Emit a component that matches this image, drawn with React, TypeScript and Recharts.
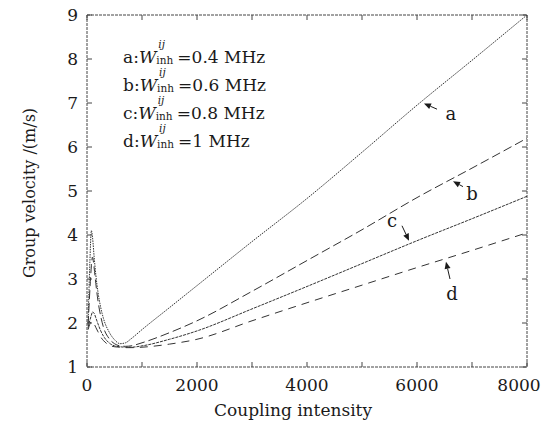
import { Line, LineChart, ReferenceDot, ReferenceLine, XAxis, YAxis } from 'recharts'

// coupling intensity samples shared by all four curves
const XS = [20, 50, 80, 100, 130, 160, 200, 250, 300, 400, 500, 600, 700, 800, 1000, 1500, 2000, 3000, 4000, 5000, 6000, 7000, 8000]

// group velocity (m/s)
const A_04 = [2.0, 3.3, 4.1, 3.95, 3.5, 3.1, 2.7, 2.35, 2.1, 1.8, 1.62, 1.53, 1.55, 1.64, 1.85, 2.35, 2.85, 3.85, 4.83, 5.88, 6.95, 7.97, 9.0]
const B_06 = [1.95, 2.7, 3.3, 3.5, 3.25, 2.9, 2.5, 2.15, 1.9, 1.65, 1.53, 1.48, 1.47, 1.48, 1.55, 1.78, 2.05, 2.72, 3.42, 4.12, 4.85, 5.52, 6.2]
const C_08 = [1.9, 2.05, 2.18, 2.25, 2.22, 2.12, 1.98, 1.82, 1.7, 1.55, 1.48, 1.46, 1.45, 1.45, 1.48, 1.63, 1.82, 2.32, 2.83, 3.35, 3.87, 4.37, 4.88]
const D_10 = [1.85, 1.97, 2.03, 2.03, 1.98, 1.9, 1.8, 1.68, 1.6, 1.5, 1.46, 1.45, 1.44, 1.44, 1.45, 1.52, 1.63, 2.05, 2.46, 2.86, 3.26, 3.65, 4.05]

const X_TICKS = [0, 1000, 2000, 3000, 4000, 5000, 6000, 7000, 8000]
const Y_TICKS = [1, 2, 3, 4, 5, 6, 7, 8, 9]

const LEGEND = [
  { key: 'a', value: '0.4 MHz' },
  { key: 'b', value: '0.6 MHz' },
  { key: 'c', value: '0.8 MHz' },
  { key: 'd', value: '1 MHz' },
]

// arrow annotations in data units: tail -> head, plus letter position
const ARROWS = [
  { label: 'a', tail: [6364, 6.86], head: [6127, 6.99], text: [6618, 6.77] },
  { label: 'b', tail: [6836, 5.1], head: [6655, 5.22], text: [7000, 4.94] },
  { label: 'c', tail: [5727, 4.21], head: [5855, 3.87], text: [5545, 4.33] },
  { label: 'd', tail: [6600, 3.0], head: [6527, 3.39], text: [6636, 2.66] },
]

const rows = XS.map((x, i) => ({ x, a: A_04[i], b: B_06[i], c: C_08[i], d: D_10[i] }))

const FONT = '"DejaVu Serif", serif'
const INK = '#1a1a1a'
const FRAME = '#444'

function BottomTick(props: any) {
  const { x, y, payload } = props
  const v = payload.value
  const showLabel = v % 2000 === 0
  return (
    <g>
      <line x1={x} y1={y} x2={x} y2={y - 5} stroke={FRAME} strokeWidth={1} />
      {showLabel && (
        <text x={v === 8000 ? x - 8 : x} y={y + 24} textAnchor="middle" fontFamily={FONT} fontSize={17} fill={INK}>
          {v}
        </text>
      )}
    </g>
  )
}

function TopTick(props: any) {
  const { x, y } = props
  return <line x1={x} y1={y} x2={x} y2={y + 5} stroke={FRAME} strokeWidth={1} />
}

function LeftTick(props: any) {
  const { x, y, payload } = props
  return (
    <g>
      <line x1={x} y1={y} x2={x + 5} y2={y} stroke={FRAME} strokeWidth={1} />
      <text x={x - 9} y={y + 6} textAnchor="end" fontFamily={FONT} fontSize={17} fill={INK}>
        {payload.value}
      </text>
    </g>
  )
}

function RightTick(props: any) {
  const { x, y } = props
  return <line x1={x} y1={y} x2={x - 5} y2={y} stroke={FRAME} strokeWidth={1} />
}

function ArrowShape(props: any) {
  const { x1, y1, x2, y2 } = props
  const ang = Math.atan2(y2 - y1, x2 - x1)
  const len = 7
  const w = 3
  const bx = x2 - len * Math.cos(ang)
  const by = y2 - len * Math.sin(ang)
  const px = -Math.sin(ang) * w
  const py = Math.cos(ang) * w
  return (
    <g>
      <line x1={x1} y1={y1} x2={bx} y2={by} stroke={INK} strokeWidth={1} />
      <polygon points={`${x2},${y2} ${bx + px},${by + py} ${bx - px},${by - py}`} fill={INK} />
    </g>
  )
}

function letterShape(label: string) {
  return (p: any) => (
    <text x={p.cx} y={p.cy} textAnchor="middle" dominantBaseline="central" fontFamily={FONT} fontSize={18} fill={INK}>
      {label}
    </text>
  )
}

function LegendRow({ k, value }: { k: string; value: string }) {
  return (
    <div style={{ whiteSpace: 'nowrap', height: 28, lineHeight: '28px' }}>
      {k}:<i>W</i>
      <span style={{ position: 'relative', display: 'inline-block', width: 21, height: 10 }}>
        <i style={{ position: 'absolute', left: 2, top: -14, fontSize: 10.5, lineHeight: '10px' }}>ij</i>
        <span style={{ position: 'absolute', left: 0, top: 2, fontSize: 10.5, lineHeight: '10px' }}>inh</span>
      </span>
      ={value}
    </div>
  )
}

export default function App() {
  return (
    <div style={{ position: 'absolute', left: 0, top: 0, width: 548, height: 423, background: '#fff' }}>
      <LineChart width={548} height={423} data={rows} margin={{ top: 14, right: 20, bottom: 0, left: 0 }}>
        <XAxis
          dataKey="x"
          type="number"
          domain={[0, 8000]}
          ticks={X_TICKS}
          interval={0}
          height={56}
          tickSize={0}
          tickMargin={0}
          tickLine={false}
          tick={<BottomTick />}
          axisLine={{ stroke: FRAME, strokeDasharray: '3 1' }}
        />
        <XAxis
          xAxisId="top"
          orientation="top"
          dataKey="x"
          type="number"
          domain={[0, 8000]}
          ticks={X_TICKS}
          interval={0}
          height={1}
          tickSize={0}
          tickMargin={0}
          tickLine={false}
          tick={<TopTick />}
          axisLine={{ stroke: FRAME, strokeDasharray: '3 1' }}
        />
        <YAxis
          type="number"
          domain={[1, 9]}
          ticks={Y_TICKS}
          interval={0}
          width={87}
          tickSize={0}
          tickMargin={0}
          tickLine={false}
          tick={<LeftTick />}
          axisLine={{ stroke: FRAME, strokeDasharray: '3 1' }}
        />
        <YAxis
          yAxisId="right"
          orientation="right"
          type="number"
          domain={[1, 9]}
          ticks={Y_TICKS}
          interval={0}
          width={1}
          tickSize={0}
          tickMargin={0}
          tickLine={false}
          tick={<RightTick />}
          axisLine={{ stroke: FRAME, strokeDasharray: '3 1' }}
        />

        <Line type="monotone" dataKey="a" stroke="#333" strokeWidth={1} strokeDasharray="1.5 1" dot={false} activeDot={false} isAnimationActive={false} />
        <Line type="monotone" dataKey="b" stroke="#333" strokeWidth={1} strokeDasharray="9 4" dot={false} activeDot={false} isAnimationActive={false} />
        <Line type="monotone" dataKey="c" stroke="#333" strokeWidth={1} strokeDasharray="3 1" dot={false} activeDot={false} isAnimationActive={false} />
        <Line type="monotone" dataKey="d" stroke="#333" strokeWidth={1} strokeDasharray="8 6" dot={false} activeDot={false} isAnimationActive={false} />
        {/* invisible series so the top and right frame axes get drawn */}
        <Line xAxisId="top" yAxisId="right" dataKey="a" stroke="none" dot={false} activeDot={false} legendType="none" isAnimationActive={false} />

        {ARROWS.map((ar) => (
          <ReferenceLine
            key={`arrow-${ar.label}`}
            segment={[
              { x: ar.tail[0], y: ar.tail[1] },
              { x: ar.head[0], y: ar.head[1] },
            ]}
            shape={<ArrowShape />}
          />
        ))}
        {ARROWS.map((ar) => (
          <ReferenceDot key={`lbl-${ar.label}`} x={ar.text[0]} y={ar.text[1]} r={0} shape={letterShape(ar.label)} />
        ))}
      </LineChart>

      <div style={{ position: 'absolute', left: 123, top: 43, fontFamily: FONT, fontSize: 17, color: INK }}>
        {LEGEND.map((l) => (
          <LegendRow key={l.key} k={l.key} value={l.value} />
        ))}
      </div>

      <div
        style={{
          position: 'absolute',
          left: 30,
          top: 193,
          transform: 'translate(-50%, -50%) rotate(-90deg)',
          whiteSpace: 'nowrap',
          fontFamily: FONT,
          fontSize: 16,
          lineHeight: '20px',
          color: INK,
        }}
      >
        Group velocity /(m/s)
      </div>

      <div
        style={{
          position: 'absolute',
          left: 293,
          top: 400,
          transform: 'translateX(-50%)',
          whiteSpace: 'nowrap',
          fontFamily: FONT,
          fontSize: 17,
          lineHeight: '20px',
          color: INK,
        }}
      >
        Coupling intensity
      </div>
    </div>
  )
}
